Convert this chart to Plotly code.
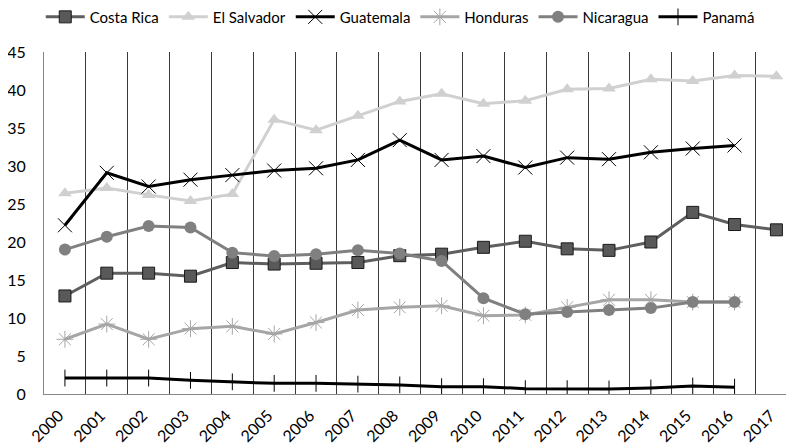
import plotly.graph_objects as go

years = [str(y) for y in range(2000, 2018)]

costa_rica = [12.9, 15.9, 15.9, 15.5, 17.3, 17.1, 17.2, 17.3, 18.2, 18.4, 19.3, 20.1, 19.1, 18.9, 20.0, 23.9, 22.3, 21.6]
el_salvador = [26.4, 27.1, 26.2, 25.4, 26.3, 36.1, 34.7, 36.6, 38.5, 39.5, 38.2, 38.6, 40.1, 40.2, 41.4, 41.2, 41.9, 41.8]
guatemala = [22.2, 29.1, 27.3, 28.2, 28.8, 29.4, 29.7, 30.8, 33.4, 30.8, 31.3, 29.8, 31.1, 30.9, 31.8, 32.3, 32.7, None]
honduras = [7.2, 9.2, 7.2, 8.6, 8.9, 7.9, 9.4, 11.05, 11.4, 11.6, 10.3, 10.4, 11.4, 12.4, 12.4, 12.1, 12.1, None]
nicaragua = [19.0, 20.7, 22.1, 21.9, 18.6, 18.15, 18.4, 18.9, 18.5, 17.5, 12.6, 10.5, 10.8, 11.05, 11.3, 12.1, 12.1, None]
panama = [2.1, 2.1, 2.1, 1.8, 1.6, 1.4, 1.4, 1.3, 1.2, 0.96, 0.96, 0.7, 0.7, 0.66, 0.8, 1.05, 0.9, None]

y_ticks = [0, 5, 10, 15, 20, 25, 30, 35, 40, 45]

FONT = "Lato"

fig = go.Figure()

fig.add_trace(go.Scatter(
    x=years, y=costa_rica, name="Costa Rica", mode="lines+markers",
    line=dict(color="#5f5f5f", width=3),
    marker=dict(symbol="square", size=12, color="#595959", line=dict(color="#1a1a1a", width=1)),
))
fig.add_trace(go.Scatter(
    x=years, y=el_salvador, name="El Salvador", mode="lines+markers",
    line=dict(color="#d0d0d0", width=3),
    marker=dict(symbol="triangle-up", size=12, color="#d0d0d0"),
))
fig.add_trace(go.Scatter(
    x=years, y=guatemala, name="Guatemala", mode="lines+markers",
    line=dict(color="#000000", width=3),
    marker=dict(symbol="x-thin-open", size=14, color="#000000", line=dict(color="#000000", width=1)),
))
fig.add_trace(go.Scatter(
    x=years, y=honduras, name="Honduras", mode="lines+markers",
    line=dict(color="#a6a6a6", width=3),
    marker=dict(symbol="asterisk-open", size=14, color="#a6a6a6", line=dict(color="#a6a6a6", width=1)),
))
fig.add_trace(go.Scatter(
    x=years, y=nicaragua, name="Nicaragua", mode="lines+markers",
    line=dict(color="#808080", width=3),
    marker=dict(symbol="circle", size=12, color="#808080"),
))
fig.add_trace(go.Scatter(
    x=years, y=panama, name="Panamá", mode="lines+markers",
    line=dict(color="#000000", width=3),
    marker=dict(symbol="line-ns-open", size=12, color="#000000", line=dict(color="#000000", width=1)),
))

fig.update_layout(
    width=786, height=440,
    margin=dict(l=36, r=0, t=44, b=54, autoexpand=False),
    paper_bgcolor="white", plot_bgcolor="white",
    font=dict(family=FONT, color="#000000", size=15),
    showlegend=True,
    legend=dict(
        orientation="h", x=0.475, xanchor="center", y=1.102, yanchor="middle",
        font=dict(family=FONT, size=15, color="#000000"),
        bgcolor="rgba(0,0,0,0)", itemwidth=39,
    ),
    xaxis=dict(
        type="category", categoryorder="array", categoryarray=years,
        range=[-0.5, 17.42],
        tickson="boundaries", ticks="",
        showgrid=True, gridcolor="#3a3a3a", gridwidth=1,
        showline=True, linecolor="#868686", linewidth=1,
        tickangle=-45, tickfont=dict(family=FONT, size=16, color="#000000"),
        ticklabelshift=-6, ticklabelstandoff=5,
        zeroline=False,
    ),
    yaxis=dict(
        range=[0, 45], tickvals=y_ticks,
        showgrid=False, zeroline=False,
        showline=True, linecolor="#868686", linewidth=1,
        ticks="", ticklabelstandoff=14,
        tickfont=dict(family=FONT, size=16, color="#000000"),
    ),
)

fig.write_html("out.html")
